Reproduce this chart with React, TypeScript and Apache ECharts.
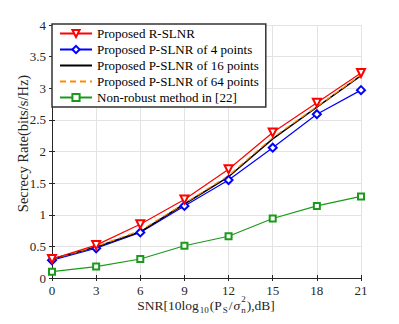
import React, { useEffect, useRef } from "react";
import * as echarts from "echarts";

const snr = [0, 3, 6, 9, 12, 15, 18, 21];
const rSlnr = [0.3, 0.52, 0.85, 1.24, 1.72, 2.3, 2.77, 3.24];
const p4 = [0.28, 0.47, 0.72, 1.14, 1.55, 2.06, 2.59, 2.97];
const p16 = [0.3, 0.49, 0.73, 1.17, 1.6, 2.2, 2.7, 3.2];
const p64 = [0.3, 0.5, 0.75, 1.18, 1.62, 2.22, 2.71, 3.21];
const nonRobust = [0.1, 0.18, 0.3, 0.51, 0.66, 0.94, 1.14, 1.29];

const seriesNames = [
  "Proposed R-SLNR",
  "Proposed P-SLNR of 4 points",
  "Proposed P-SLNR of 16 points",
  "Proposed P-SLNR of 64 points",
  "Non-robust method in [22]",
];
const yAxisName = "Secrecy Rate(bits/s/Hz)";

const FONT = "Liberation Serif";
const GRID = { left: 52, right: 38, top: 25, bottom: 46 };

function pairs(ys: number[]) {
  return snr.map((x, i) => [x, ys[i]]);
}

function buildXLabel(width: number) {
  const ctx = document.createElement("canvas").getContext("2d")!;
  const main = 13.5;
  const small = 9;
  const segs: { t: string; size: number; dy: number; italic?: boolean; stack?: string }[] = [
    { t: "SNR[10log", size: main, dy: 0 },
    { t: "10", size: small, dy: 5 },
    { t: "(P", size: main, dy: 0 },
    { t: "S", size: small, dy: 5 },
    { t: "/", size: main, dy: 0 },
    { t: "σ", size: main, dy: 0, italic: true },
    { t: "2", size: small, dy: -6, stack: "n" },
    { t: "),dB]", size: main, dy: 0 },
  ];
  const meas = (t: string, size: number, italic?: boolean) => {
    ctx.font = `${italic ? "italic " : ""}${size}px "${FONT}"`;
    return ctx.measureText(t).width;
  };
  const widths = segs.map((s) => {
    const w = meas(s.t, s.size, s.italic);
    return (s.stack ? Math.max(w, meas(s.stack, s.size)) : w) + 1;
  });
  const total = widths.reduce((a, b) => a + b, 0);
  const plotCenter = GRID.left + (width - GRID.left - GRID.right) / 2;
  let x = plotCenter - total / 2;
  const yc = 305;
  const els: any[] = [];
  segs.forEach((s, i) => {
    els.push({
      type: "text",
      x,
      y: yc + s.dy,
      silent: true,
      style: {
        text: s.t,
        font: `${s.italic ? "italic " : ""}${s.size}px "${FONT}"`,
        fill: "#262626",
        verticalAlign: "middle",
        align: "left",
      },
    });
    if (s.stack) {
      els.push({
        type: "text",
        x,
        y: yc + 5,
        silent: true,
        style: {
          text: s.stack,
          font: `${s.size}px "${FONT}"`,
          fill: "#262626",
          verticalAlign: "middle",
          align: "left",
        },
      });
    }
    x += widths[i];
  });
  return els;
}

export default function App() {
  const ref = useRef<HTMLDivElement>(null);
  useEffect(() => {
    if (!ref.current) return;
    const chart = echarts.init(ref.current, null, { renderer: "svg" });
    const axisCommon = {
      type: "value" as const,
      axisLine: { show: true, lineStyle: { color: "#262626", width: 1 } },
      axisTick: { show: true, inside: true, length: 3, lineStyle: { color: "#262626" } },
      axisLabel: { color: "#262626", fontFamily: FONT, fontSize: 13 },
    };
    const mk = (name: string, data: number[], color: string, symbol: string, size: number, extra: any = {}) => ({
      name,
      type: "line",
      data: pairs(data),
      symbol,
      symbolSize: size,
      lineStyle: { color, width: extra.width || 1.2, ...(extra.lineType ? { type: extra.lineType } : {}) },
      itemStyle: { color, borderColor: color, borderWidth: 1 },
      color,
      symbolRotate: extra.rotate || 0,
      showSymbol: symbol !== "none",
      z: extra.z || 2,
    });
    chart.setOption({
      animation: false,
      backgroundColor: "#fff",
      textStyle: { fontFamily: FONT },
      grid: { ...GRID, show: false },
      xAxis: [
        {
          ...axisCommon,
          min: 0,
          max: 21,
          interval: 3,
          axisLabel: { ...axisCommon.axisLabel, margin: 6 },
          splitLine: { show: true, lineStyle: { color: "#e3e3e3", width: 1 } },
        },
        {
          ...axisCommon,
          position: "top",
          min: 0,
          max: 21,
          interval: 3,
          axisLabel: { show: false },
          splitLine: { show: false },
        },
      ],
      yAxis: [
        {
          ...axisCommon,
          min: 0,
          max: 4,
          interval: 0.5,
          name: yAxisName,
          nameLocation: "middle",
          nameGap: 22,
          nameMoveOverlap: false,
          nameTextStyle: { color: "#262626", fontFamily: FONT, fontSize: 14.5, padding: [0, 0, 0, 16] },
          axisLabel: { ...axisCommon.axisLabel, margin: 6 },
          splitLine: { show: true, lineStyle: { color: "#e3e3e3", width: 1 } },
        },
        {
          ...axisCommon,
          position: "right",
          min: 0,
          max: 4,
          interval: 0.5,
          axisLabel: { show: false },
          splitLine: { show: false },
        },
      ],
      legend: {
        orient: "vertical",
        left: GRID.left,
        top: 24,
        backgroundColor: "#fff",
        borderColor: "#333",
        borderWidth: 1.5,
        borderRadius: 0,
        padding: [3, 7, 3, 7],
        itemGap: 3,
        itemWidth: 32,
        itemHeight: 9,
        textStyle: { color: "#000", fontFamily: FONT, fontSize: 13 },
        data: [
          { name: seriesNames[0] },
          { name: seriesNames[1] },
          { name: seriesNames[2], itemStyle: { opacity: 0 } },
          { name: seriesNames[3], itemStyle: { opacity: 0 } },
          { name: seriesNames[4] },
        ],
        z: 10,
      },
      series: [
        mk(seriesNames[4], nonRobust, "#1a9a1a", "emptyRect", 6),
        mk(seriesNames[1], p4, "#0000ff", "emptyDiamond", 8),
        mk(seriesNames[2], p16, "#000000", "none", 0, { width: 1.5 }),
        mk(seriesNames[3], p64, "#ff8c00", "none", 0, { lineType: [6, 4] }),
        mk(seriesNames[0], rSlnr, "#ff0000", "emptyTriangle", 8, { rotate: 180, z: 3 }),
      ],
      graphic: buildXLabel(399),
    });
    return () => chart.dispose();
  }, []);
  return <div ref={ref} style={{ width: 399, height: 324, margin: -8 }} />;
}
